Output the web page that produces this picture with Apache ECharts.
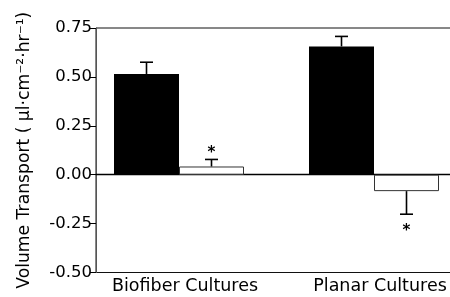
<!DOCTYPE html>
<html lang="en" style="height: 100%">
<head>
    <meta charset="UTF-8" />
    <title>Volume Transport</title>
    <style>
        html, body { margin: 0; padding: 0; background: #fff; }
        #container { width: 450px; height: 297px; }
    </style>
</head>
<body>
    <div id="container"></div>
    <script src="https://cdn.jsdelivr.net/npm/echarts@6/dist/echarts.min.js"></script>
    <script type="text/javascript">
        // data
        var categories = ['Biofiber Cultures', 'Planar Cultures'];
        var blackValues = [0.515, 0.656];
        var blackErrors = [0.06, 0.051];
        var whiteValues = [0.042, -0.084];
        var whiteErrors = [0.036, 0.118];
        var whiteStars = [true, true];
        var yTicks = [-0.5, -0.25, 0, 0.25, 0.5, 0.75];

        var BAR_W = 65;
        var yMin = yTicks[0], yMax = yTicks[yTicks.length - 1];

        // error bar rows: [category, value, error, side, star]
        var errRows = [];
        for (var i = 0; i < categories.length; i++) {
            errRows.push([i, blackValues[i], blackErrors[i], -1, 0]);
            errRows.push([i, whiteValues[i], whiteErrors[i], 1, whiteStars[i] ? 1 : 0]);
        }

        var dom = document.getElementById('container');
        var myChart = echarts.init(dom, null, { renderer: 'canvas' });
        var option = {
            backgroundColor: '#fff',
            animation: false,
            grid: [
                { left: 81.5, width: 390, top: 28, bottom: 24.5, outerBoundsMode: 'none', containLabel: false },
                { left: 96, width: 380, top: 28, bottom: 24.5, show: true, outerBoundsMode: 'none',
                  containLabel: false, borderColor: '#111', borderWidth: 1, backgroundColor: 'transparent' }
            ],
            xAxis: [
                {
                    gridIndex: 0, type: 'category', data: categories,
                    axisLine: { show: false }, axisTick: { show: false },
                    axisLabel: { color: '#000', fontFamily: 'DejaVu Sans', fontSize: 17.5, margin: 5,
                                 interval: 0, padding: [0, 0, 0, 12] }
                },
                {
                    gridIndex: 1, type: 'value', min: 0, max: 1,
                    axisLine: { show: true, onZero: true, lineStyle: { color: '#000', width: 1.3 } },
                    axisTick: { show: false }, axisLabel: { show: false }, splitLine: { show: false }
                }
            ],
            yAxis: [
                {
                    gridIndex: 0, type: 'value', min: yMin, max: yMax, show: false
                },
                {
                    gridIndex: 1, type: 'value', min: yMin, max: yMax, interval: 0.25,
                    name: 'Volume Transport ( \u00b5l\u00b7cm\u207b\u00b2\u00b7hr\u207b\u00b9)',
                    nameLocation: 'middle', nameGap: 63,
                    nameTextStyle: { color: '#000', fontFamily: 'DejaVu Sans', fontSize: 17.2 },
                    axisLine: { show: true, lineStyle: { color: '#555', width: 1 } },
                    axisTick: { show: true, inside: false, length: 6, lineStyle: { color: '#000' } },
                    axisLabel: {
                        color: '#000', fontFamily: 'DejaVu Sans', fontSize: 16.5, margin: 4,
                        formatter: function (v) { return v.toFixed(2); }
                    },
                    splitLine: { show: false }
                }
            ],
            series: [
                {
                    name: 'black', type: 'bar', xAxisIndex: 0, yAxisIndex: 0,
                    data: blackValues, barWidth: BAR_W, barGap: '0%',
                    itemStyle: { color: '#000' }
                },
                {
                    name: 'white', type: 'bar', xAxisIndex: 0, yAxisIndex: 0,
                    data: whiteValues, barWidth: BAR_W, barGap: '0%',
                    itemStyle: { color: '#fff', borderColor: '#333', borderWidth: 1 }
                },
                {
                    name: 'errors', type: 'custom', xAxisIndex: 0, yAxisIndex: 0, z: 5,
                    data: errRows,
                    renderItem: function (params, api) {
                        var cat = api.value(0), v = api.value(1), e = api.value(2);
                        var side = api.value(3), star = api.value(4);
                        var sign = v >= 0 ? 1 : -1;
                        var p0 = api.coord([cat, v]);
                        var p1 = api.coord([cat, v + sign * e]);
                        var x = p0[0] + side * BAR_W / 2;
                        var style = { stroke: '#000', lineWidth: 1.6 };
                        var children = [
                            { type: 'line', shape: { x1: x, y1: p0[1], x2: x, y2: p1[1] }, style: style },
                            { type: 'line', shape: { x1: x - 6.5, y1: p1[1], x2: x + 6.5, y2: p1[1] }, style: style }
                        ];
                        if (star) {
                            var sy = sign > 0 ? p1[1] - 10 : p1[1] + 12.5;
                            children.push({
                                type: 'text',
                                style: {
                                    text: '*', x: x, y: sy + 4, align: 'center', verticalAlign: 'middle',
                                    fill: '#000', font: 'bold 15px "DejaVu Sans"'
                                }
                            });
                        }
                        return { type: 'group', children: children };
                    }
                }
            ]
        };
        myChart.setOption(option, true);
    </script>
</body>
</html>
